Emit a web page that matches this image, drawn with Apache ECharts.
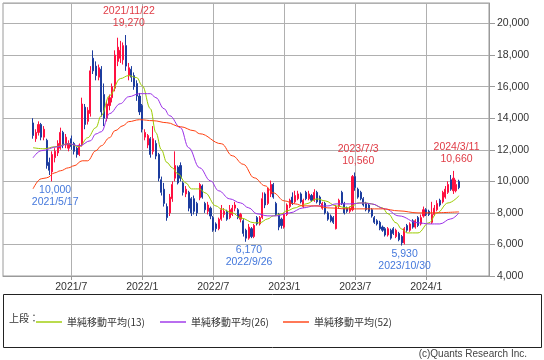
<!DOCTYPE html>
<html><head><meta charset="utf-8">
<script src="https://cdn.jsdelivr.net/npm/echarts@6/dist/echarts.min.js"></script>
<style>html,body{margin:0;padding:0;background:#fff}#c{width:544px;height:360px}</style>
</head><body><div id="c"></div>
<script>
// Weekly categories (Mondays)
const weeks = [
"2021/1/11","2021/1/18","2021/1/25","2021/2/1","2021/2/8","2021/2/15","2021/2/22","2021/3/1","2021/3/8","2021/3/15","2021/3/22","2021/3/29",
"2021/4/5","2021/4/12","2021/4/19","2021/4/26","2021/5/3","2021/5/10","2021/5/17","2021/5/24","2021/5/31","2021/6/7","2021/6/14","2021/6/21","2021/6/28",
"2021/7/5","2021/7/12","2021/7/19","2021/7/26","2021/8/2","2021/8/9","2021/8/16","2021/8/23","2021/8/30","2021/9/6","2021/9/13","2021/9/20","2021/9/27",
"2021/10/4","2021/10/11","2021/10/18","2021/10/25","2021/11/1","2021/11/8","2021/11/15","2021/11/22","2021/11/29","2021/12/6","2021/12/13","2021/12/20","2021/12/27",
"2022/1/3","2022/1/10","2022/1/17","2022/1/24","2022/1/31","2022/2/7","2022/2/14","2022/2/21","2022/2/28","2022/3/7","2022/3/14","2022/3/21","2022/3/28",
"2022/4/4","2022/4/11","2022/4/18","2022/4/25","2022/5/2","2022/5/9","2022/5/16","2022/5/23","2022/5/30","2022/6/6","2022/6/13","2022/6/20","2022/6/27",
"2022/7/4","2022/7/11","2022/7/18","2022/7/25","2022/8/1","2022/8/8","2022/8/15","2022/8/22","2022/8/29","2022/9/5","2022/9/12","2022/9/19","2022/9/26",
"2022/10/3","2022/10/10","2022/10/17","2022/10/24","2022/10/31","2022/11/7","2022/11/14","2022/11/21","2022/11/28","2022/12/5","2022/12/12","2022/12/19","2022/12/26",
"2023/1/2","2023/1/9","2023/1/16","2023/1/23","2023/1/30","2023/2/6","2023/2/13","2023/2/20","2023/2/27","2023/3/6","2023/3/13","2023/3/20","2023/3/27",
"2023/4/3","2023/4/10","2023/4/17","2023/4/24","2023/5/1","2023/5/8","2023/5/15","2023/5/22","2023/5/29","2023/6/5","2023/6/12","2023/6/19","2023/6/26",
"2023/7/3","2023/7/10","2023/7/17","2023/7/24","2023/7/31","2023/8/7","2023/8/14","2023/8/21","2023/8/28","2023/9/4","2023/9/11","2023/9/18","2023/9/25",
"2023/10/2","2023/10/9","2023/10/16","2023/10/23","2023/10/30","2023/11/6","2023/11/13","2023/11/20","2023/11/27","2023/12/4","2023/12/11","2023/12/18","2023/12/25",
"2024/1/1","2024/1/8","2024/1/15","2024/1/22","2024/1/29","2024/2/5","2024/2/12","2024/2/19","2024/2/26","2024/3/4","2024/3/11","2024/3/18","2024/3/25",
"2024/4/1","2024/4/8","2024/4/15","2024/4/22","2024/4/29","2024/5/6","2024/5/13","2024/5/20","2024/5/27","2024/6/3","2024/6/10"
];

// Weekly candles: [date, open, close, low, high]
const candles = [
["2021/3/29",13700,12900,12700,14000],["2021/4/5",12700,13100,12500,13300],["2021/4/12",13100,13600,12900,13800],["2021/4/19",13600,12800,12600,13700],
["2021/4/26",12800,13300,12600,13500],["2021/5/3",12600,11000,10800,12700],["2021/5/10",11200,10700,10400,11500],["2021/5/17",10600,11700,10000,11900],
["2021/5/24",11500,11900,11200,12100],["2021/5/31",11800,12400,11600,12600],["2021/6/7",12100,13100,12000,13400],["2021/6/14",13100,12300,12100,13200],
["2021/6/21",12300,12800,12100,13000],["2021/6/28",12100,12400,11900,12600],["2021/7/5",12700,12200,12000,12900],["2021/7/12",12400,11900,11700,12500],
["2021/7/19",12100,11700,11500,12200],["2021/7/26",11700,12300,11600,12400],["2021/8/2",12300,14900,12200,15300],["2021/8/9",14700,13600,13300,14900],
["2021/8/16",13800,14500,13600,14700],["2021/8/23",14300,17000,14100,17300],["2021/8/30",17800,17000,16800,18300],["2021/9/6",17300,16700,16400,17600],
["2021/9/13",16600,17200,16400,17400],["2021/9/20",17100,14400,14100,17300],["2021/9/27",15500,14000,13500,16200],["2021/10/4",14000,14900,13800,15100],
["2021/10/11",14800,15300,14500,15500],["2021/10/18",15300,16000,15000,16200],["2021/10/25",15900,18000,15700,18300],["2021/11/1",17600,18500,17300,19100],
["2021/11/8",17800,18300,17500,18900],["2021/11/15",17700,18600,17400,18800],["2021/11/22",18600,17300,17000,19270],["2021/11/29",16700,17200,16400,17500],
["2021/12/6",17100,16600,16300,17300],["2021/12/13",16700,16000,15800,16900],["2021/12/20",16200,15400,15100,16400],["2021/12/27",15400,14400,14200,15600],
["2022/1/3",14800,13300,13100,14900],["2022/1/10",12800,13100,12600,13300],["2022/1/17",12300,12900,12100,13000],["2022/1/24",12700,11700,11500,12800],
["2022/1/31",11900,12700,11700,13500],["2022/2/7",12400,11600,11400,12600],["2022/2/14",11700,10200,10000,11800],["2022/2/21",10100,9300,9100,10300],
["2022/2/28",9500,8600,8400,9900],["2022/3/7",8400,7700,7500,8600],["2022/3/14",8000,9000,7800,9200],["2022/3/21",8900,9800,8700,10000],
["2022/3/28",10200,11000,10000,11900],["2022/4/4",10900,9900,9800,11000],["2022/4/11",11000,10200,10000,11200],["2022/4/18",9900,9300,9100,10000],
["2022/4/25",9200,9500,9000,9700],["2022/5/2",9300,8300,8100,9400],["2022/5/9",8900,8000,7800,9000],["2022/5/16",8900,8100,7900,9100],
["2022/5/23",8600,8000,7800,8700],["2022/5/30",8950,9800,8800,9900],["2022/6/6",9700,9000,8900,9800],["2022/6/13",8600,8200,8000,8700],
["2022/6/20",8100,8500,7900,8700],["2022/6/27",8300,7800,7600,8400],["2022/7/4",7700,6900,6800,7800],["2022/7/11",7300,7000,6800,7400],
["2022/7/18",7000,7600,6900,7700],["2022/7/25",7600,8200,7500,8500],["2022/8/1",7900,8100,7700,8300],["2022/8/8",8100,7600,7500,8200],
["2022/8/15",7700,8200,7600,8500],["2022/8/22",7900,8300,7800,8500],["2022/8/29",8300,8500,8100,8700],["2022/9/5",8200,7700,7600,8300],
["2022/9/12",7600,7900,7400,8000],["2022/9/19",7500,6700,6500,7600],["2022/9/26",6900,6400,6170,7000],["2022/10/3",6400,7100,6300,7300],
["2022/10/10",7000,6500,6400,7100],["2022/10/17",6500,7200,6400,7300],["2022/10/24",7700,7300,7200,7800],["2022/10/31",7300,7700,7200,7800],
["2022/11/7",7700,8900,7600,9300],["2022/11/14",9200,8500,8300,9300],["2022/11/21",8600,9500,8500,9600],["2022/11/28",9200,9800,9000,10050],
["2022/12/5",9800,9000,8900,9900],["2022/12/12",8600,7900,7800,8700],["2022/12/19",7900,7100,6900,8000],["2022/12/26",7600,7200,7000,7700],
["2023/1/2",7100,7900,7000,8000],["2023/1/9",7900,8500,7800,8600],["2023/1/16",8400,8800,8300,8900],["2023/1/23",9000,8600,8500,9300],
["2023/1/30",8700,9100,8600,9400],["2023/2/6",8900,9200,8800,9400],["2023/2/13",9200,8700,8600,9300],["2023/2/20",8400,8800,8300,8900],
["2023/2/27",9300,8900,8800,9400],["2023/3/6",8900,9200,8800,9400],["2023/3/13",9100,8800,8700,9200],["2023/3/20",8800,9300,8700,9500],
["2023/3/27",9300,8700,8600,9400],["2023/4/3",9000,8600,8500,9100],["2023/4/10",8300,8600,8200,8700],["2023/4/17",8600,8000,7900,8700],
["2023/4/24",8000,7600,7500,8100],["2023/5/1",7800,7500,7400,7900],["2023/5/8",7700,7400,7300,7800],["2023/5/15",7000,8400,6950,8500],
["2023/5/22",8400,8800,8300,8900],["2023/5/29",9300,8600,8500,9400],["2023/6/5",8600,8000,7900,8700],["2023/6/12",8300,8100,8000,8400],
["2023/6/19",8100,8300,8000,8400],["2023/6/26",8200,10300,8100,10400],["2023/7/3",10300,9600,9400,10560],["2023/7/10",9500,9000,8900,9600],
["2023/7/17",9300,8900,8800,9400],["2023/7/24",8900,8500,8400,9000],["2023/7/31",8600,8200,8100,8700],["2023/8/7",8500,8100,8000,8600],
["2023/8/14",8200,7800,7700,8300],["2023/8/21",7700,7400,7300,7800],["2023/8/28",7500,7300,7200,7600],["2023/9/4",7400,7000,6900,7500],
["2023/9/11",7100,6900,6800,7200],["2023/9/18",7000,6600,6500,7100],["2023/9/25",6600,7000,6500,7100],["2023/10/2",6900,6400,6300,7000],
["2023/10/9",7000,6700,6600,7100],["2023/10/16",6500,6900,6400,7000],["2023/10/23",6700,6300,6200,6800],["2023/10/30",6500,6100,5930,6600],
["2023/11/6",6100,7000,6000,7100],["2023/11/13",7200,6900,6800,7300],["2023/11/20",6900,7300,6800,7400],["2023/11/27",7500,7100,7000,7600],
["2023/12/4",7100,7500,7000,7600],["2023/12/11",7700,7200,7100,7800],["2023/12/18",7300,7700,7200,7900],["2023/12/25",7800,8200,7700,8400],
["2024/1/1",8200,7900,7800,8300],["2024/1/8",8100,7900,7800,8200],["2024/1/15",7400,7900,7300,8700],["2024/1/22",7900,8300,7800,8500],
["2024/1/29",8200,8600,8100,8800],["2024/2/5",8800,8500,8400,8900],["2024/2/12",8700,9300,8600,9400],["2024/2/19",9000,9500,8900,9700],
["2024/2/26",9300,9800,9200,10000],["2024/3/4",10100,9500,9400,10400],["2024/3/11",9400,10200,9200,10660],["2024/3/18",9400,9800,9300,10100],
["2024/3/25",10000,9600,9500,10100]
];

// Moving averages: [date, value]
const ma13 = [["2021/3/29",12130],["2021/4/26",12060],["2021/5/24",12190],["2021/6/28",12380],["2021/7/26",12190],["2021/8/16",12760],
["2021/9/6",13400],["2021/9/20",14160],["2021/10/11",15430],["2021/11/8",16510],["2021/11/29",16700],["2021/12/20",16570],["2022/1/3",16060],
["2022/1/24",14600],["2022/2/7",13080],["2022/2/21",12000],["2022/3/7",11200],["2022/3/21",10860],["2022/4/4",10480],["2022/4/25",9900],
["2022/5/9",9520],["2022/5/30",9520],["2022/6/13",9270],["2022/7/11",8440],["2022/7/25",8250],["2022/8/22",8000],["2022/9/12",7680],
["2022/10/17",7370],["2022/10/31",7370],["2022/11/21",7620],["2022/12/5",7810],["2022/12/26",7940],["2023/1/9",8130],["2023/1/30",8320],
["2023/2/13",8440],["2023/2/27",8570],["2023/3/27",8890],["2023/4/17",8760],["2023/5/15",8440],["2023/6/12",8320],["2023/6/26",8440],
["2023/7/10",8630],["2023/7/31",8630],["2023/8/14",8570],["2023/9/11",8320],["2023/9/25",7940],["2023/10/16",7370],["2023/10/30",6980],
["2023/11/13",6730],["2023/12/11",6730],["2024/1/8",7370],["2024/1/29",8000],["2024/2/26",8630],["2024/3/25",9080]];

const ma26 = [["2021/3/29",11490],["2021/4/19",11940],["2021/5/31",12190],["2021/6/28",12380],["2021/7/26",12250],["2021/8/23",12570],
["2021/9/6",13000],["2021/9/20",13140],["2021/10/11",14290],["2021/11/8",14920],["2021/11/29",15360],["2021/12/27",15555],["2022/1/24",15555],
["2022/2/7",15300],["2022/2/28",14600],["2022/3/14",14160],["2022/4/11",13400],["2022/5/2",12130],["2022/5/30",10860],["2022/6/27",10030],
["2022/7/18",9400],["2022/8/15",8890],["2022/9/12",8630],["2022/10/3",8320],["2022/10/24",7940],["2022/11/21",7810],["2022/12/12",7810],
["2023/1/16",8000],["2023/2/20",8320],["2023/3/20",8440],["2023/4/24",8440],["2023/5/15",8570],["2023/6/19",8570],["2023/7/24",8630],
["2023/8/14",8570],["2023/9/18",8250],["2023/10/23",7810],["2023/12/11",7370],["2024/1/8",7300],["2024/2/5",7300],["2024/3/4",7620],["2024/3/25",8000]];

const ma52 = [["2021/3/29",9524],["2021/4/19",10159],["2021/5/3",10222],["2021/5/24",10539],["2021/6/7",10666],["2021/6/28",10857],
["2021/7/12",10984],["2021/8/2",11301],["2021/8/16",11301],["2021/9/6",11936],["2021/9/20",12254],["2021/10/11",12762],["2021/10/25",13206],
["2021/11/15",13524],["2021/11/29",13780],["2021/12/27",13905],["2022/1/31",13841],["2022/3/7",13714],["2022/4/11",13460],["2022/5/16",13206],
["2022/5/30",13016],["2022/7/25",12381],["2022/8/22",11619],["2022/9/19",11080],["2022/10/17",10222],["2022/11/14",9714],["2022/12/5",9270],
["2023/1/2",8762],["2023/1/30",8570],["2023/2/20",8444],["2023/3/27",8444],["2023/4/24",8317],["2023/6/12",8254],["2023/7/31",8254],
["2023/9/11",8254],["2023/10/23",8127],["2023/12/11",8000],["2024/1/8",8000],["2024/3/25",8063]];

const maNames = ["単純移動平均(13)","単純移動平均(26)","単純移動平均(52)"];
const highNotes = [["2021/11/22",19270],["2023/7/3",10560],["2024/3/11",10660]];
const lowNotes = [["2021/5/17",10000],["2022/9/26",6170],["2023/10/30",5930]];
const yTicks = {min:4000, max:21300, interval:2000};

const fmt = v => Number(v).toLocaleString('en-US');
const candleMap = {};
candles.forEach(r => { candleMap[r[0]] = r.slice(1); });
const candleData = weeks.map(d => candleMap[d] || '-');
const isHalfYear = (idx, val) => { const p = String(val).split('/').map(Number); return (p[1] === 1 || p[1] === 7) && p[2] <= 7; };
const FONT = "'Liberation Sans', Arial, sans-serif";
const CJK = "'Noto Sans CJK JP', sans-serif";

const chart = echarts.init(document.getElementById('c'), null, {renderer:'canvas'});
const noteLabel = (color, pos) => ({
  show: true, position: pos, distance: pos === 'top' ? 5 : 2, color: color,
  fontFamily: FONT, fontSize: 10.5, lineHeight: 12, align: 'center', offset: [3, 0],
  formatter: p => p.data.txt
});
chart.setOption({
  animation: false,
  backgroundColor: '#fff',
  grid: {left: 3, right: 55, top: 3, bottom: 84, show: true, borderColor: '#9a9a9a', borderWidth: 1, backgroundColor: '#fff'},
  xAxis: {
    type: 'category', data: weeks, boundaryGap: false,
    axisLine: {show: true, lineStyle: {color: '#9a9a9a'}},
    axisTick: {show: true, interval: isHalfYear, length: 4, lineStyle: {color: '#9a9a9a'}},
    axisLabel: {interval: isHalfYear, margin: 6, color: '#333', fontFamily: FONT, fontSize: 10.5,
      formatter: v => { const p = v.split('/'); return p[0] + '/' + p[1]; }},
    splitLine: {show: true, interval: isHalfYear, lineStyle: {color: '#b0b0b0', width: 1}}
  },
  yAxis: {
    type: 'value', position: 'right', min: yTicks.min, max: yTicks.max, interval: yTicks.interval,
    axisLine: {show: true, lineStyle: {color: '#9a9a9a'}},
    axisTick: {show: true, length: 6, lineStyle: {color: '#9a9a9a'}},
    axisLabel: {showMaxLabel: false, margin: 8, color: '#333', fontFamily: FONT, fontSize: 10.5, formatter: fmt},
    splitLine: {show: true, lineStyle: {color: '#b0b0b0', width: 1}}
  },
  legend: maNames.map((n, k) => ({
    data: [{name: n, icon: 'rect'}], left: [31, 155, 278][k], top: 312, itemWidth: 26, itemHeight: 1.4, itemGap: 4,
    textStyle: {fontFamily: CJK, fontSize: 10, color: '#333'}, selectedMode: false
  })),
  series: [
    {
      type: 'candlestick', name: 'price', data: candleData, barWidth: 1.6,
      itemStyle: {color: '#ff1040', borderColor: '#ff1040', color0: '#1c3c9e', borderColor0: '#1c3c9e', borderWidth: 1},
      markPoint: {
        symbol: 'circle', symbolSize: 1, itemStyle: {color: 'rgba(0,0,0,0)'},
        data: highNotes.map(h => ({coord: [h[0], h[1]], txt: h[0] + '\n' + fmt(h[1]), label: noteLabel('#e03c46', 'top')}))
          .concat(lowNotes.map(l => ({coord: [l[0], l[1]], txt: fmt(l[1]) + '\n' + l[0], label: noteLabel('#4478dc', 'bottom')})))
      }
    },
    {type: 'line', name: maNames[0], data: ma13, symbol: 'none', smooth: 0.4, smoothMonotone: 'x', lineStyle: {color: '#9ccc00', width: 1}, itemStyle: {color: '#9ccc00'}},
    {type: 'line', name: maNames[1], data: ma26, symbol: 'none', smooth: 0.4, smoothMonotone: 'x', lineStyle: {color: '#9b30e8', width: 1}, itemStyle: {color: '#9b30e8'}},
    {type: 'line', name: maNames[2], data: ma52, symbol: 'none', smooth: 0.4, smoothMonotone: 'x', lineStyle: {color: '#ff4010', width: 1}, itemStyle: {color: '#ff4010'}}
  ],
  graphic: [
    {type: 'rect', shape: {x: 3.5, y: 294.5, width: 538, height: 53}, style: {fill: 'none', stroke: '#222', lineWidth: 1}, silent: true},
    {type: 'text', x: 9, y: 318, style: {text: '上段：', fontFamily: CJK, fontSize: 10, fill: '#333', textVerticalAlign: 'middle'}},
    {type: 'text', x: 527, y: 354, style: {text: '(c)Quants Research Inc.', fontFamily: FONT, fontSize: 10, fill: '#444', textAlign: 'right', textVerticalAlign: 'middle'}}
  ]
});
</script></body></html>
